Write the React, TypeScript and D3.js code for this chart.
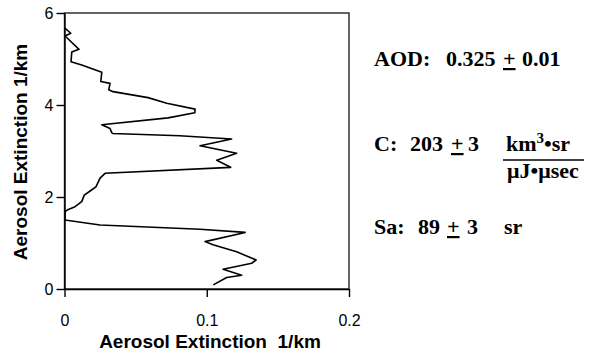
import React, { useRef, useEffect } from 'react';
import * as d3 from 'd3';

// altitude (km) and extinction (1/km), top to bottom
const altitude = [
  5.67, 5.56, 5.50, 5.21, 5.15, 4.94, 4.87, 4.71, 4.51, 4.47, 4.33, 4.29, 4.16, 4.04,
  3.91, 3.83, 3.72, 3.57, 3.49, 3.40, 3.38, 3.33, 3.26, 3.115, 2.95, 2.80, 2.645,
  2.515, 2.41, 2.22, 2.13, 2.04, 1.90, 1.79, 1.73, 1.68, 1.50, 1.39, 1.30, 1.23,
  1.03, 0.96, 0.81, 0.63, 0.56, 0.43, 0.30, 0.25, 0.09,
];
const extinction = [
  0.0003, 0.0044, 0.0004, 0.0102, 0.0051, 0.0046, 0.0121, 0.0262, 0.0255, 0.032, 0.0311,
  0.0341, 0.0587, 0.0719, 0.0918, 0.0916, 0.0728, 0.0262, 0.032, 0.0332, 0.034, 0.081,
  0.1175, 0.0953, 0.121, 0.107, 0.1168, 0.0285, 0.025, 0.0221, 0.018, 0.0139, 0.0121,
  0.0074, 0.0027, 0.0004, 0.0003, 0.025, 0.0953, 0.127, 0.0988, 0.1044, 0.121, 0.1347,
  0.1316, 0.1115, 0.1246, 0.114, 0.1046,
];
const xTicks = [0, 0.1, 0.2];
const yTicks = [0, 2, 4, 6];

const aodText = ['AOD:', '0.325', '+', '0.01'];
const cText = ['C:', '203', '+', '3'];
const saText = ['Sa:', '89', '+', '3', 'sr'];

function App() {
  const ref = useRef<SVGSVGElement>(null);

  useEffect(() => {
    const svg = d3.select(ref.current);
    svg.selectAll('*').remove();

    const left = 64.5, right = 349, top = 13, bottom = 289;
    const x = d3.scaleLinear().domain([0, 0.2]).range([left, right]);
    const y = d3.scaleLinear().domain([0, 6]).range([bottom, top]);
    const sans = '"Liberation Sans", Arial, Helvetica, sans-serif';
    const serif = '"Liberation Serif", "Times New Roman", serif';
    const fmt = (d: d3.NumberValue) => String(+d);

    // frame
    svg.append('rect')
      .attr('x', left).attr('y', top)
      .attr('width', right - left).attr('height', bottom - top)
      .attr('fill', 'none').attr('stroke', '#222').attr('stroke-width', 1.4);

    const xAxis = svg.append('g')
      .attr('transform', 'translate(0,' + bottom + ')')
      .call(d3.axisBottom(x).tickValues(xTicks).tickSize(8).tickSizeOuter(0).tickPadding(18)
        .tickFormat(fmt));
    const yAxis = svg.append('g')
      .attr('transform', 'translate(' + left + ',0)')
      .call(d3.axisLeft(y).tickValues(yTicks).tickSize(8).tickSizeOuter(0).tickPadding(3)
        .tickFormat(fmt));

    [xAxis, yAxis].forEach(g => {
      g.select('.domain').attr('stroke', '#000').attr('stroke-width', 1.4);
      g.selectAll('.tick line').attr('stroke', '#000').attr('stroke-width', 1.4);
      g.selectAll('.tick text')
        .attr('fill', '#000')
        .style('font-family', sans)
        .style('font-size', '16px');
    });

    const pts = altitude.map((a, i) => [extinction[i], a] as [number, number]);
    svg.append('path')
      .datum(pts)
      .attr('fill', 'none')
      .attr('stroke', '#000')
      .attr('stroke-width', 1.6)
      .attr('stroke-linejoin', 'round')
      .attr('d', d3.line<[number, number]>().x(d => x(d[0])).y(d => y(d[1])));

    svg.append('text')
      .attr('x', 210).attr('y', 348)
      .attr('text-anchor', 'middle')
      .style('font-family', sans).style('font-weight', 'bold').style('font-size', '19px')
      .style('white-space', 'pre')
      .text('Aerosol Extinction  1/km');

    svg.append('text')
      .attr('transform', 'rotate(-90)')
      .attr('x', -152).attr('y', 27)
      .attr('text-anchor', 'middle')
      .style('font-family', sans).style('font-weight', 'bold').style('font-size', '19px')
      .style('white-space', 'pre')
      .text('Aerosol Extinction 1/km');

    // annotation block
    const note = svg.append('g')
      .style('font-family', serif).style('font-weight', 'bold').style('font-size', '22px');
    const row = (parts: string[], xs: number[], baseline: number) => {
      parts.forEach((p, i) => {
        note.append('text')
          .attr('x', xs[i]).attr('y', baseline)
          .attr('text-decoration', p === '+' ? 'underline' : null)
          .text(p);
      });
    };
    row(aodText, [374, 446, 503, 522], 66);
    row(cText, [374, 410, 451, 468], 151);
    row(saText, [374, 418, 447, 467, 504], 234);

    const num = note.append('text').attr('x', 506).attr('y', 151);
    num.append('tspan').text('km');
    num.append('tspan').attr('dy', -8).style('font-size', '15px').text('3');
    num.append('tspan').attr('dy', 8).text('•sr');
    note.append('line')
      .attr('x1', 503).attr('x2', 584).attr('y1', 160).attr('y2', 160)
      .attr('stroke', '#000').attr('stroke-width', 1.5);
    note.append('text').attr('x', 507).attr('y', 178).text('μJ•μsec');
  }, []);

  return (
    <svg ref={ref} width="592" height="356"
      style={{ position: 'absolute', left: 0, top: 0, background: '#fff' }} />
  );
}

export default App;
